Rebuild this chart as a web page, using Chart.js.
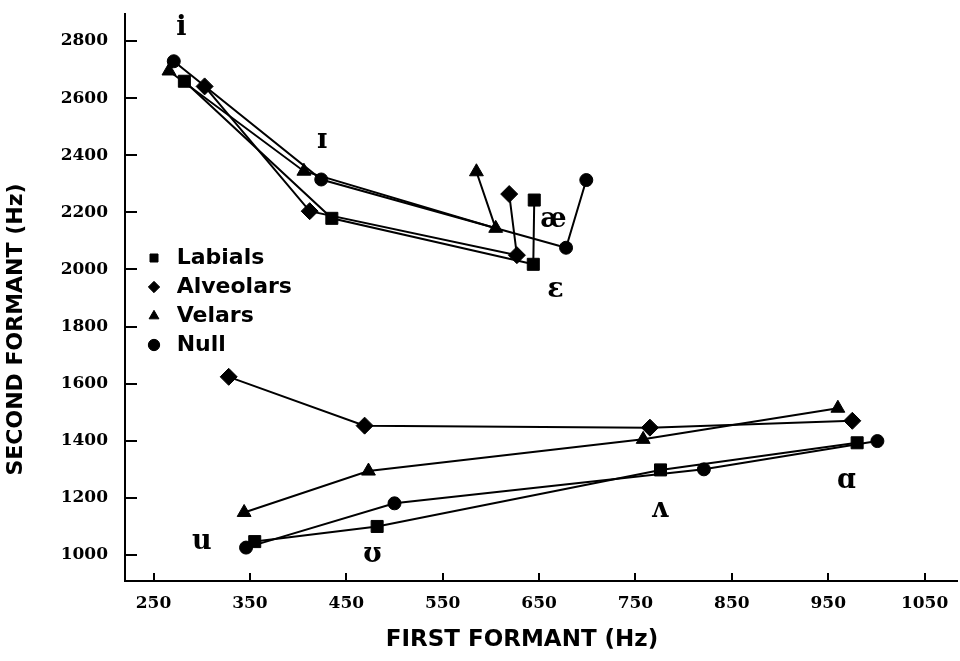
<!DOCTYPE html>
<html>
<head>
<meta charset="utf-8">
<title>First vs second formant</title>
<script src="https://cdn.jsdelivr.net/npm/chart.js@4.4.1/dist/chart.umd.min.js"></script>
<style>
  html, body { margin: 0; padding: 0; background: #fff; }
  #wrap { width: 960px; height: 661px; }
</style>
</head>
<body>
<div id="wrap"><canvas id="formant-chart" width="960" height="661"></canvas></div>
<script>
// vowel order along each line: front vowels first, then back vowels
const frontVowels = ['i', 'ɪ', 'ɛ', 'æ'];
const backVowels = ['u', 'ʊ', 'ʌ', 'ɑ'];

// F1 and F2 (Hz) for each consonant context, same order as the vowels above
const labialsF1 = [282, 435, 644, 645, 355, 482, 776, 980];
const labialsF2 = [2659, 2179, 2018, 2243, 1047, 1100, 1298, 1393];
const alveolarsF1 = [303, 412, 627, 619, 328, 469, 765, 975];
const alveolarsF2 = [2641, 2204, 2050, 2264, 1624, 1453, 1446, 1470];
const velarsF1 = [266, 406, 605, 585, 344, 473, 758, 960];
const velarsF2 = [2695, 2344, 2144, 2342, 1149, 1294, 1405, 1514];
const nullF1 = [271, 424, 678, 699, 346, 500, 821, 1001];
const nullF2 = [2729, 2315, 2076, 2313, 1026, 1181, 1300, 1399];

// where the vowel symbols are written (Hz)
const vowelLabelF1 = [279, 425, 667, 665, 300, 477, 775, 969];
const vowelLabelF2 = [2820, 2425, 1905, 2150, 1020, 977, 1134, 1234];

const xTicks = [250, 350, 450, 550, 650, 750, 850, 950, 1050];
const yTicks = [1000, 1200, 1400, 1600, 1800, 2000, 2200, 2400, 2600, 2800];

const allVowels = frontVowels.concat(backVowels);

// build {x, y} points, with a gap so front and back vowels are not joined
function toPoints(f1, f2) {
    const pts = [];
    f1.forEach(function (x, i) {
        if (i === frontVowels.length) pts.push({ x: null, y: null });
        pts.push({ x: x, y: f2[i] });
    });
    return pts;
}

function series(label, f1, f2, style, radius) {
    return {
        label: label,
        data: toPoints(f1, f2),
        showLine: true,
        spanGaps: false,
        borderColor: '#000',
        backgroundColor: '#000',
        borderWidth: 2,
        pointStyle: style,
        pointRadius: radius,
        pointHoverRadius: radius,
        pointBorderWidth: 1,
        pointBackgroundColor: '#000',
        pointBorderColor: '#000'
    };
}

// ticks pointing into the plot
const innerTicks = {
    id: 'innerTicks',
    afterDraw(chart) {
        const { ctx, chartArea, scales } = chart;
        ctx.save();
        ctx.strokeStyle = '#000';
        ctx.lineWidth = 2;
        ctx.beginPath();
        scales.y.ticks.forEach(function (t) {
            const py = Math.round(scales.y.getPixelForValue(t.value));
            ctx.moveTo(chartArea.left, py);
            ctx.lineTo(chartArea.left + 12, py);
        });
        scales.x.ticks.forEach(function (t) {
            const px = Math.round(scales.x.getPixelForValue(t.value));
            ctx.moveTo(px, chartArea.bottom);
            ctx.lineTo(px, chartArea.bottom - 8);
        });
        ctx.stroke();
        ctx.restore();
    }
};

// vowel symbols and axis titles
const annotations = {
    id: 'annotations',
    afterDraw(chart) {
        const { ctx, chartArea, scales } = chart;
        ctx.save();
        ctx.fillStyle = '#000';
        ctx.font = 'bold 27px "DejaVu Serif"';
        ctx.textAlign = 'center';
        ctx.textBaseline = 'alphabetic';
        allVowels.forEach(function (v, i) {
            ctx.fillText(v, scales.x.getPixelForValue(vowelLabelF1[i]), scales.y.getPixelForValue(vowelLabelF2[i]));
        });

        ctx.font = 'bold 23px "DejaVu Sans"';
        ctx.textBaseline = 'middle';
        ctx.fillText('FIRST FORMANT (Hz)', 522, chartArea.bottom + 59);

        ctx.font = 'bold 22px "DejaVu Sans"';
        ctx.translate(16, (chartArea.top + chartArea.bottom) / 2 + 32);
        ctx.rotate(-Math.PI / 2);
        ctx.fillText('SECOND FORMANT (Hz)', 0, 0);
        ctx.restore();
    }
};

// nudge the in-plot legend to where it sits in the original
const legendShift = {
    id: 'legendShift',
    afterLayout(chart) {
        if (chart.legend) {
            chart.legend.left += 18;
            chart.legend.right += 18;
            chart.legend.top += 18;
            chart.legend.bottom += 18;
        }
    }
};

const tickFont = { family: 'DejaVu Serif', weight: 'bold', size: 17 };

new Chart(document.getElementById('formant-chart'), {
    type: 'scatter',
    data: {
        datasets: [
            series('Labials', labialsF1, labialsF2, 'rect', 8.5),
            series('Alveolars', alveolarsF1, alveolarsF2, 'rectRot', 8.5),
            series('Velars', velarsF1, velarsF2, 'triangle', 8),
            series('Null', nullF1, nullF2, 'circle', 6.5)
        ]
    },
    options: {
        responsive: false,
        animation: false,
        devicePixelRatio: 1,
        events: [],
        layout: { autoPadding: false, padding: { top: 14, right: 3, left: 0, bottom: 0 } },
        scales: {
            x: {
                type: 'linear',
                min: 220.4,
                max: 1083.6,
                afterBuildTicks: function (s) { s.ticks = xTicks.map(function (v) { return { value: v }; }); },
                afterFit: function (s) {
                    s.height = 80;
                    s.paddingLeft = 0;
                    s.paddingRight = 0;
                },
                grid: { display: true, drawOnChartArea: false, drawTicks: false },
                border: { display: true, color: '#000', width: 2 },
                ticks: {
                    color: '#000',
                    font: tickFont,
                    padding: 12,
                    maxRotation: 0,
                    autoSkip: false,
                    callback: function (v) { return String(v); }
                },
                title: { display: false }
            },
            y: {
                type: 'linear',
                min: 909,
                max: 2894.5,
                afterBuildTicks: function (s) { s.ticks = yTicks.map(function (v) { return { value: v }; }); },
                afterFit: function (s) {
                    s.width = 125;
                    s.paddingTop = 0;
                    s.paddingBottom = 0;
                },
                grid: { display: true, drawOnChartArea: false, drawTicks: false },
                border: { display: true, color: '#000', width: 2 },
                ticks: {
                    color: '#000',
                    font: tickFont,
                    padding: 17,
                    autoSkip: false,
                    callback: function (v) { return String(v); }
                },
                title: { display: false }
            }
        },
        plugins: {
            legend: {
                position: 'chartArea',
                align: 'center',
                labels: {
                    usePointStyle: true,
                    boxWidth: 8,
                    boxHeight: 8,
                    padding: 7,
                    color: '#000',
                    font: { family: 'DejaVu Sans', weight: 'bold', size: 22 },
                    generateLabels: function (chart) {
                        return Chart.defaults.plugins.legend.labels.generateLabels(chart).map(function (item) {
                            item.text = ' ' + item.text;
                            return item;
                        });
                    }
                }
            },
            tooltip: { enabled: false }
        }
    },
    plugins: [innerTicks, annotations, legendShift]
});
</script>
</body>
</html>
